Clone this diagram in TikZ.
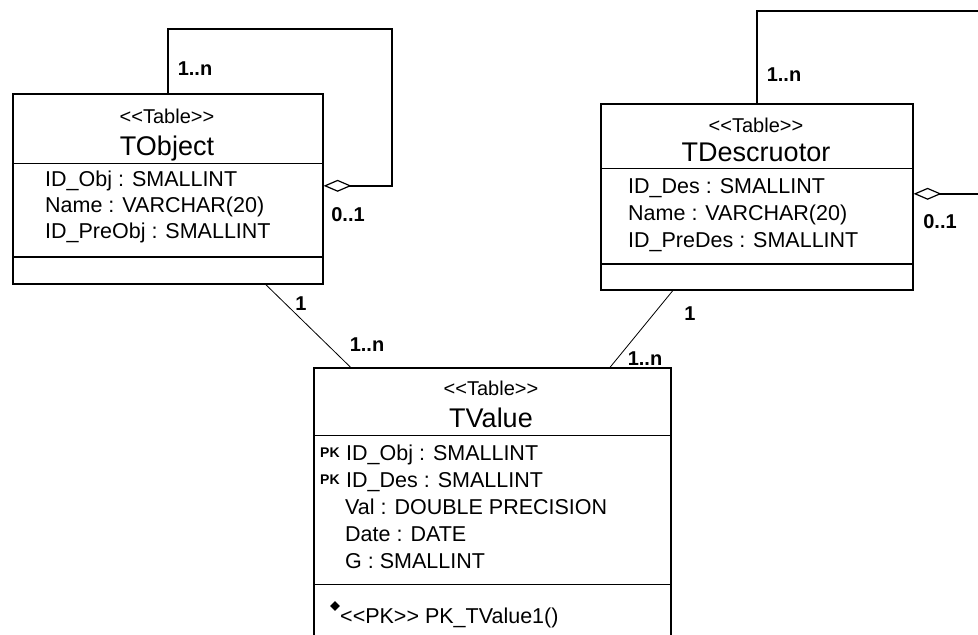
\documentclass[tikz,border=0pt]{standalone}
\usepackage{fontspec}
\setmainfont{Liberation Sans}[Ligatures=TeXOff]
\usetikzlibrary{arrows.meta,shapes.geometric}

\tikzset{
  tablebox/.style={draw, line width=1.6pt, anchor=north west, inner sep=0pt},
  stereo/.style={anchor=base, inner sep=0pt, font=\fontsize{20}{22}\selectfont},
  tname/.style={anchor=base, inner sep=0pt, font=\fontsize{27}{30}\selectfont},
  attr/.style={anchor=base west, inner sep=0pt, font=\fontsize{21.5}{26}\selectfont},
  pk/.style={anchor=base west, inner sep=0pt, font=\fontsize{14}{16}\selectfont\bfseries},
  mult/.style={inner sep=0pt, font=\fontsize{20}{22}\selectfont\bfseries},
  sep/.style={line width=1pt},
  selfref/.style={line width=2.5pt, -{Diamond[open, length=28pt, width=12pt, line width=1.2pt]}},
  assoc/.style={line width=0.8pt},
}

\begin{document}
\begin{tikzpicture}[x=1pt,y=-1pt]
   \useasboundingbox (0,0) rectangle (978,635);
   \clip (0,0) rectangle (978,635);

   % TObject
   \node[tablebox, minimum width=310pt, minimum height=190pt] (tobj) at (12,93) {};
   \node[stereo] (tobjst) at (167,123) {<<Table>>};
   \node[tname] (tobjname) at (167,155) {TObject};
   \draw[sep] (tobj.west |- 0,163) -- (tobj.east |- 0,163);
   \node[attr] (tobja1) at (45,186) {ID\_Obj : SMALLINT};
   \node[attr] (tobja2) at (45,212) {Name : VARCHAR(20)};
   \node[attr] (tobja3) at (45,238) {ID\_PreObj : SMALLINT};
   \draw[sep, line width=1.4pt] (tobj.west |- 0,257) -- (tobj.east |- 0,257);

   % TDescruotor
   \node[tablebox, minimum width=312pt, minimum height=186pt] (tdes) at (600,103) {};
   \node[stereo] (tdesst) at (756,132) {<<Table>>};
   \node[tname] (tdesname) at (756,161) {TDescruotor};
   \draw[sep] (tdes.west |- 0,168) -- (tdes.east |- 0,168);
   \node[attr] (tdesa1) at (628,193) {ID\_Des : SMALLINT};
   \node[attr] (tdesa2) at (628,220) {Name : VARCHAR(20)};
   \node[attr] (tdesa3) at (628,247) {ID\_PreDes : SMALLINT};
   \draw[sep, line width=2.2pt] (tdes.west |- 0,264) -- (tdes.east |- 0,264);

   % TValue
   \node[tablebox, minimum width=357pt, minimum height=290pt] (tval) at (313,367) {};
   \node[stereo] (tvalst) at (491,395) {<<Table>>};
   \node[tname] (tvalname) at (491,427) {TValue};
   \draw[sep] (tval.west |- 0,435) -- (tval.east |- 0,435);
   \node[pk] (tvalpk1) at (320,457) {PK};
   \node[attr] (tvala1) at (346,460) {ID\_Obj : SMALLINT};
   \node[pk] (tvalpk2) at (320,484) {PK};
   \node[attr] (tvala2) at (346,487) {ID\_Des : SMALLINT};
   \node[attr] (tvala3) at (345,514) {Val : DOUBLE PRECISION};
   \node[attr] (tvala4) at (345,541) {Date : DATE};
   \node[attr] (tvala5) at (345,568) {G : SMALLINT};
   \draw[sep] (tval.west |- 0,584) -- (tval.east |- 0,584);
   \node[diamond, fill, inner sep=0pt, minimum size=10pt] (tvalbul) at (335,606) {};
   \node[attr] (tvalop) at (340,623) {<<PK>> PK\_TValue1()};

   % self references
   \coordinate (tobjloop) at (392,29);
   \draw[selfref] (tobj.north) |- (tobjloop) |- ([yshift=3pt]tobj.east);
   \node[mult] (tobjm1) at (195,69) {1..n};
   \node[mult] (tobjm2) at (348,215) {0..1};

   \coordinate (tdesloop) at (995,11);
   \draw[selfref, line width=2pt] (tdes.north) |- (tdesloop) |- ([yshift=3pt]tdes.east);
   \node[mult] (tdesm1) at (784,75) {1..n};
   \node[mult] (tdesm2) at (940,222) {0..1};

   % associations
   \draw[assoc] ([xshift=98pt]tobj.south) -- ([xshift=-142pt]tval.north);
   \node[mult] (tobjv1) at (301,304) {1};
   \node[mult] (tobjv2) at (367,345) {1..n};
   \draw[assoc] ([xshift=-84pt]tdes.south) -- ([xshift=118pt]tval.north);
   \node[mult] (tdesv1) at (690,314) {1};
   \node[mult] (tdesv2) at (645,359) {1..n};
\end{tikzpicture}
\end{document}
